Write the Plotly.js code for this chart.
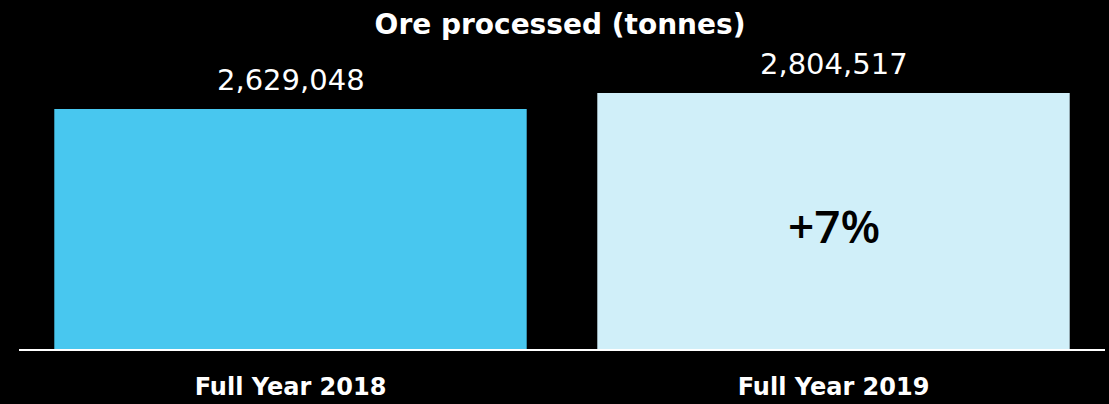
<!DOCTYPE html>
<html>
<head>
<meta charset="utf-8">
<script src="https://cdn.plot.ly/plotly-3.0.1.min.js"></script>
<style>
  html, body { margin: 0; padding: 0; background: #000; }
  #oreChart { width: 1109px; height: 404px; }
</style>
</head>
<body>
<div id="oreChart"></div>
<script>
let periods = ["Full Year 2018", "Full Year 2019"];
let oreTonnes = [2629048, 2804517];
let barColors = ["#48c7ef", "#d0eff9"];
let changeLabel = "+7%";

let oreChart = document.getElementById("oreChart");

let oreTrace = {
    type: "bar",
    x: periods,
    y: oreTonnes,
    width: 0.87,
    marker: {
        color: barColors
    },
    hoverinfo: "skip"
};

// value labels above the bars
let valueNotes = periods.map(function (p, i) {
    return {
        x: p,
        y: oreTonnes[i],
        text: oreTonnes[i].toLocaleString("en-US"),
        showarrow: false,
        yanchor: "bottom",
        yshift: 10,
        font: { family: "DejaVu Sans", size: 29, color: "white" }
    };
});

let changeNote = {
    x: periods[1],
    y: oreTonnes[1] * 0.485,
    text: changeLabel,
    showarrow: false,
    font: { family: "Open Sans", size: 46, color: "black", weight: 600 }
};

let oreLayout = {
    width: 1109,
    height: 404,
    paper_bgcolor: "black",
    plot_bgcolor: "black",
    showlegend: false,
    margin: { t: 40, b: 55, l: 19, r: 4 },
    title: {
        text: "<b>Ore processed (tonnes)</b>",
        font: { family: "DejaVu Sans", size: 28, color: "white" },
        x: 0.505,
        xanchor: "center",
        y: 0.94,
        yanchor: "middle",
        yref: "container"
    },
    xaxis: {
        range: [-0.5, 1.5],
        showline: true,
        linecolor: "white",
        linewidth: 2,
        ticks: "",
        showgrid: false,
        zeroline: false,
        ticklabelstandoff: 15,
        tickfont: { family: "DejaVu Sans", size: 24, color: "white", weight: "bold" }
    },
    yaxis: {
        range: [0, 3385000],
        visible: false,
        showgrid: false,
        zeroline: false
    },
    annotations: valueNotes.concat([changeNote])
};

Plotly.newPlot(oreChart, [oreTrace], oreLayout, { displayModeBar: false, staticPlot: true });
</script>
</body>
</html>
